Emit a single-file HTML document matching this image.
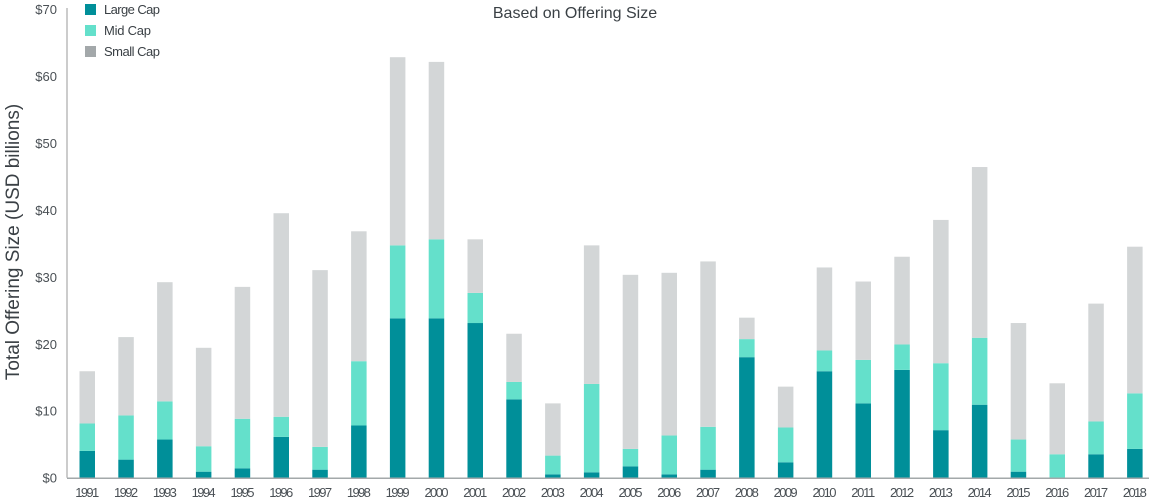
<!DOCTYPE html>
<html><head><meta charset="utf-8"><style>
body{margin:0;background:#fff;}
svg{display:block;font-family:"Liberation Sans",sans-serif;}
</style></head><body>
<svg id="chart" width="1149" height="502" viewBox="0 0 1149 502">
<text x="575" y="18" text-anchor="middle" font-size="16" fill="#3a4045">Based on Offering Size</text>
<text transform="translate(19,242) rotate(-90)" text-anchor="middle" font-size="19" fill="#3a4045">Total Offering Size (USD billions)</text>
<g>
<rect x="85" y="4" width="11" height="11" fill="#008f99"/>
<text x="104" y="14" font-size="13" fill="#3a4045" textLength="56">Large Cap</text>
<rect x="85" y="25" width="11" height="11" fill="#64e0cb"/>
<text x="104" y="35" font-size="13" fill="#3a4045" textLength="47">Mid Cap</text>
<rect x="85" y="46" width="11" height="11" fill="#a3a8aa"/>
<text x="104" y="56" font-size="13" fill="#3a4045" textLength="56">Small Cap</text>
</g>
<g id="axes"></g>
<g id="bars"></g>
</svg>
<script>
const years=[1991,1992,1993,1994,1995,1996,1997,1998,1999,2000,2001,2002,2003,2004,2005,2006,2007,2008,2009,2010,2011,2012,2013,2014,2015,2016,2017,2018];
const largeCap=[4.0,2.7,5.7,0.9,1.4,6.1,1.2,7.8,23.8,23.8,23.1,11.7,0.5,0.8,1.7,0.5,1.2,18.0,2.3,15.9,11.1,16.1,7.1,10.9,0.9,0,3.5,4.3];
const midCap=[4.1,6.6,5.7,3.8,7.4,3.0,3.4,9.6,10.9,11.8,4.5,2.6,2.8,13.2,2.6,5.8,6.4,2.7,5.2,3.1,6.5,3.8,10.0,10.0,4.8,3.5,4.9,8.3];
const smallCap=[7.8,11.7,17.8,14.7,19.7,30.4,26.4,19.4,28.1,26.5,8.0,7.2,7.8,20.7,26.0,24.3,24.7,3.2,6.1,12.4,11.7,13.1,21.4,25.5,17.4,10.6,17.6,21.9];
const yTicks=[0,10,20,30,40,50,60,70];
const NS='http://www.w3.org/2000/svg';
const y0=477.7,pxPer=(477.7-9)/70;
const yScale=v=>y0-v*pxPer;
const x0=79.5,step=38.8,bw=15.5;
const xScale=i=>x0+i*step;
const axes=document.getElementById('axes'),bars=document.getElementById('bars');
function mk(tag,attrs,parent){const e=document.createElementNS(NS,tag);for(const k in attrs)e.setAttribute(k,attrs[k]);parent.appendChild(e);return e;}
yTicks.forEach(t=>{
 const tx=mk('text',{x:57,y:yScale(t)+5,'text-anchor':'end','font-size':13,fill:'#4a5055'},axes);
 
 
 tx.textContent='$'+t;
});
const ya=mk('line',{x1:67,y1:8,x2:67,y2:y0,stroke:'#999','stroke-width':1},axes);


years.forEach((yr,i)=>{
 const x=xScale(i);
 const segs=[[largeCap[i],'#008f99','large'],[midCap[i],'#64e0cb','mid'],[smallCap[i],'#d3d6d7','small']];
 let base=0;
 segs.forEach(s=>{
  if(s[0]<=0)return;
  const r=mk('rect',{x:x,y:yScale(base+s[0]),width:bw,height:s[0]*pxPer,fill:s[1]},bars);
  
  
  base+=s[0];
 });
 const t=mk('text',{x:x+bw/2,y:497,'text-anchor':'middle','font-size':13,fill:'#4a5055',textLength:24},axes);
 
 
 t.textContent=yr;
});
const xa=mk('line',{x1:67,y1:y0+0.5,x2:1149,y2:y0+0.5,stroke:'#a3a8aa','stroke-width':1.5},bars);


</script>
</body></html>
